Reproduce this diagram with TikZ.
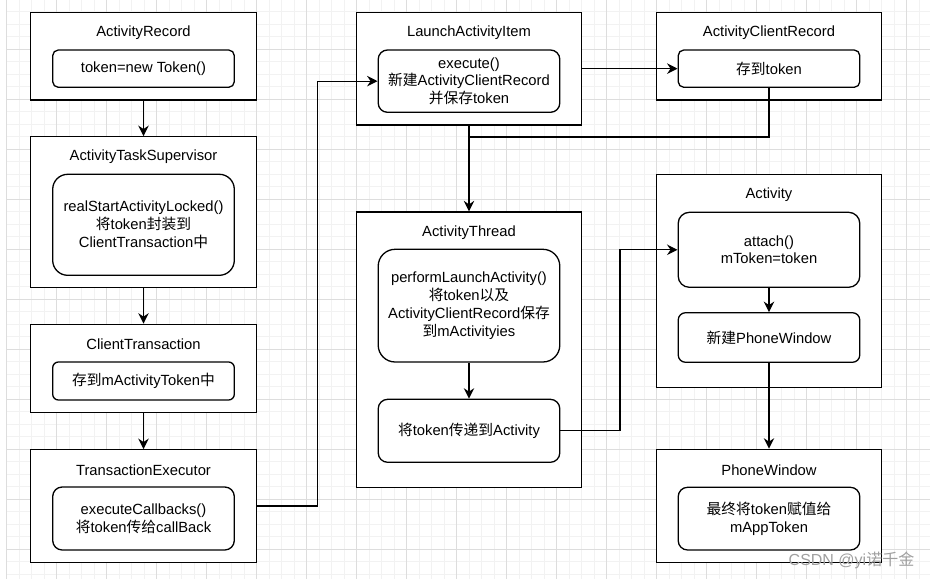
\documentclass[tikz,border=0pt]{standalone}
\usepackage{fontspec}
\setmainfont{Liberation Sans}
\newfontfamily\cjkf{Noto Sans CJK SC}
\newcommand\zhc[1]{{\cjkf #1}}
\usetikzlibrary{arrows.meta}
\definecolor{gridmaj}{RGB}{221,221,221}
\definecolor{gridmin}{RGB}{242,242,242}
\begin{document}
\begin{tikzpicture}[x=1pt,y=-1pt,
  font=\fontsize{14.76}{17.7}\selectfont,
  outerbox/.style={draw=black, line width=1.3pt, fill=white, minimum width=225.5pt, inner sep=0pt},
  innerbox/.style={draw=black, line width=1.3pt, fill=white, minimum width=181.6pt, inner sep=0pt, align=center},
  titletext/.style={inner sep=0pt, anchor=center},
  conn/.style={line width=1.3pt, draw=black},
  arr/.style={conn, -{Stealth[length=10.5pt,width=10.5pt,inset=3.5pt]}},
  gmin/.style={draw=gridmin, line width=0.8pt},
  gmaj/.style={draw=gridmaj, line width=0.9pt}
]
\useasboundingbox (0,0) rectangle (930,579);
\fill[white] (0,0) rectangle (930,579);
\begin{scope}
\clip (6.2,0) rectangle (930,579);
\foreach \i in {0,...,74} { \pgfmathsetmacro\xx{-5.8+12.5*\i} \draw[gmin] (\xx,0) -- (\xx,579); }
\foreach \i in {1,...,46} { \pgfmathsetmacro\yy{-0.7+12.5*\i} \draw[gmin] (0,\yy) -- (930,\yy); }
\foreach \i in {0,...,18} { \pgfmathsetmacro\xx{6.7+50*\i} \draw[gmaj] (\xx,0) -- (\xx,579); }
\foreach \i in {1,...,11} { \pgfmathsetmacro\yy{-0.7+50*\i} \draw[gmaj] (0,\yy) -- (930,\yy); }
\end{scope}

% left column
\node[outerbox, minimum height=87.7pt] (ar) at (143.5,56.2) {};
\node[titletext] (arT) at (143.5,32.2) {ActivityRecord};
\node[innerbox, minimum height=37.3pt, rounded corners=5.6pt] (arIn) at (143.5,68.65) {token=new Token()};

\node[outerbox, minimum height=150.6pt] (ats) at (143.5,212) {};
\node[titletext] (atsT) at (143.5,156.9) {ActivityTaskSupervisor};
\node[innerbox, minimum height=101pt, rounded corners=15pt] (atsIn) at (143.5,224.8) {realStartActivityLocked()\\\zhc{将}token\zhc{封装到}\\ClientTransaction\zhc{中}};

\node[outerbox, minimum height=88pt] (ct) at (143.5,368.3) {};
\node[titletext] (ctT) at (143.5,344.5) {ClientTransaction};
\node[innerbox, minimum height=38pt, rounded corners=5.7pt] (ctIn) at (143.5,381) {\zhc{存到}mActivityToken\zhc{中}};

\node[outerbox, minimum height=112.6pt] (te) at (143.5,506) {};
\node[titletext] (teT) at (143.5,470.2) {TransactionExecutor};
\node[innerbox, minimum height=63pt, rounded corners=9.5pt] (teIn) at (143.5,518.5) {executeCallbacks()\\\zhc{将}token\zhc{传给}callBack};

% middle column
\node[outerbox, minimum height=112.7pt] (lai) at (469,68.65) {};
\node[titletext] (laiT) at (469,32.2) {LaunchActivityItem};
\node[innerbox, minimum height=62.3pt, rounded corners=9.3pt] (laiIn) at (469,81.15) {execute()\\\zhc{新建}ActivityClientRecord\\\zhc{并保存}token};

\node[outerbox, minimum height=275.3pt] (at) at (469,349.65) {};
\node[titletext] (atT) at (469,232.2) {ActivityThread};
\node[innerbox, minimum height=112.7pt, rounded corners=16.9pt] (atIn1) at (469,305.65) {performLaunchActivity()\\\zhc{将}token\zhc{以及}\\ActivityClientRecord\zhc{保存}\\\zhc{到}mActivityies};
\node[innerbox, minimum height=63pt, rounded corners=9.5pt] (atIn2) at (469,430.8) {\zhc{将}token\zhc{传递到}Activity};

% right column
\node[outerbox, minimum height=87.7pt] (acr) at (769,56.2) {};
\node[titletext] (acrT) at (769,32.2) {ActivityClientRecord};
\node[innerbox, minimum height=37.3pt, rounded corners=5.6pt] (acrIn) at (769,68.65) {\zhc{存到}token};

\node[outerbox, minimum height=212.6pt] (act) at (769,281) {};
\node[titletext] (actT) at (769,194.9) {Activity};
\node[innerbox, minimum height=75pt, rounded corners=11.2pt] (actIn1) at (769,249.8) {attach()\\mToken=token};
\node[innerbox, minimum height=49.6pt, rounded corners=7.4pt] (actIn2) at (769,337.5) {\zhc{新建}PhoneWindow};

\node[outerbox, minimum height=113pt] (pw) at (769,505.8) {};
\node[titletext] (pwT) at (769,470.2) {PhoneWindow};
\node[innerbox, minimum height=62.7pt, rounded corners=9.4pt] (pwIn) at (769,518.65) {\zhc{最终将}token\zhc{赋值给}\\mAppToken};

% connectors
\draw[arr] (ar.south) -- (ats.north);
\draw[arr] (ats.south) -- (ct.north);
\draw[arr] (ct.south) -- (te.north);
\draw[arr] (te.east) -- ++(60.7,0) |- (laiIn.west);
\draw[arr] (lai.east) -- (acrIn.west);
\coordinate (jn) at (469,137);
\draw[conn] (acrIn.south) |- (jn);
\draw[arr] (lai.south) -- (at.north);
\draw[arr] (atIn1.south) -- (atIn2.north);
\draw[arr] (atIn2.east) -- ++(59.5,0) |- (actIn1.west);
\draw[arr] (actIn1.south) -- (actIn2.north);
\draw[arr] (actIn2.south) -- (pw.north);

\node[text=gray!75, font=\fontsize{16}{16}\selectfont, inner sep=0pt] (wm) at (851.5,560) {CSDN @yi\zhc{诺千金}};
\end{tikzpicture}
\end{document}
